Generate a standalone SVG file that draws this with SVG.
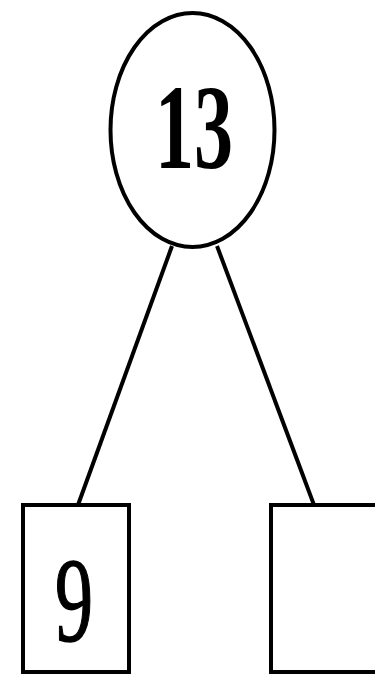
<svg xmlns="http://www.w3.org/2000/svg" width="375" height="678" viewBox="0 0 375 678">
<style>
.s{fill:#fff;stroke:#000;stroke-width:4}
.t{font-family:"Liberation Serif",serif;font-weight:bold;font-size:120px;fill:#000}
</style>
<rect width="375" height="678" fill="#fff"/>
<g id="edges" stroke="#000" stroke-width="4">
<line x1="172" y1="246" x2="78" y2="505"/>
<line x1="217" y1="246" x2="314" y2="505"/>
</g>
<g id="n13">
<ellipse class="s" cx="192.5" cy="130" rx="82" ry="117"/>
<text class="t" x="155" y="168" textLength="78" lengthAdjust="spacingAndGlyphs">13</text>
</g>
<g id="n9">
<rect class="s" x="23" y="505" width="106" height="167"/>
<text class="t" x="55" y="641" style="font-weight:normal" stroke="#000" stroke-width="1.5" textLength="38" lengthAdjust="spacingAndGlyphs">9</text>
</g>
<g id="nEmpty">
<rect class="s" x="271" y="505" width="110" height="167"/>
</g>
</svg>
